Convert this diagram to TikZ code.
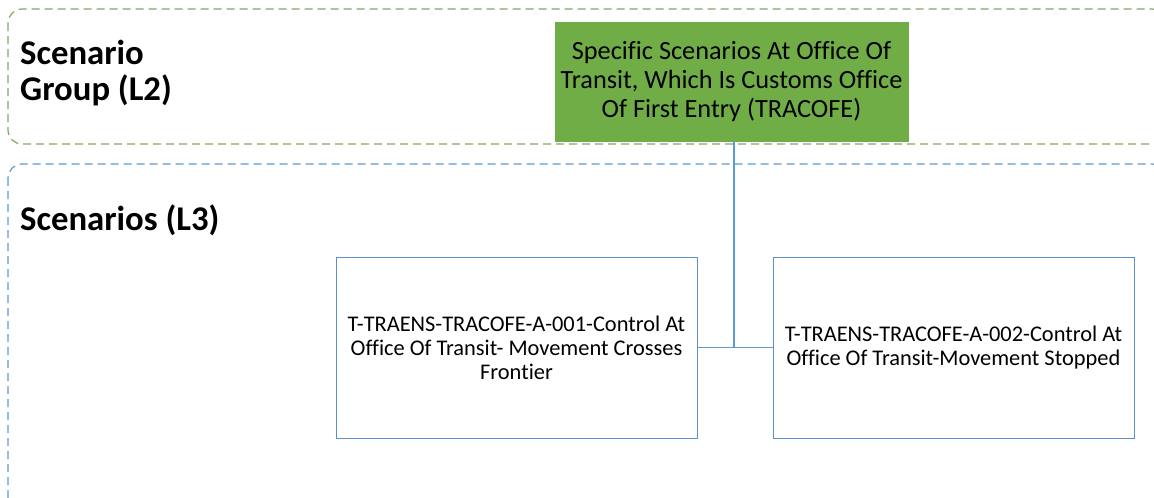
\documentclass[tikz,border=0pt]{standalone}
\usepackage{fontspec}
\setmainfont{Carlito}[Ligatures=NoCommon]
\begin{document}
\begin{tikzpicture}[x=1pt,y=-1pt,
  grp/.style={draw=grpgreen,line width=1.2pt,dash pattern=on 8pt off 5pt,rounded corners=14pt},
  lvl/.style={draw=lvlblue,line width=1.2pt,dash pattern=on 8pt off 5pt,rounded corners=14pt},
  greenbox/.style={fill=boxgreen,draw=boxgreen,minimum width=353pt,minimum height=119pt,align=center,font=\fontsize{26.3}{29}\selectfont,inner sep=0pt},
  scenbox/.style={draw=boxblue,line width=0.9pt,fill=white,minimum width=361pt,minimum height=181pt,align=center,font=\fontsize{22.4}{24}\selectfont,inner sep=0pt},
  lbl/.style={anchor=west,align=left,font=\fontsize{34.7}{36}\selectfont\bfseries,inner sep=0pt},
  conn/.style={draw=lvlblue,line width=1.2pt}]
\definecolor{grpgreen}{HTML}{7FA866}
\definecolor{lvlblue}{HTML}{5B9BD5}
\definecolor{boxgreen}{HTML}{70AD47}
\definecolor{boxblue}{HTML}{5B8FD0}
\useasboundingbox (0,0) rectangle (1154,498);
\clip (0,0) rectangle (1154,498);
\fill[white] (0,0) rectangle (1154,498);
\draw[grp] (8,9) rectangle (1166,144);
\draw[lvl] (8,164) rectangle (1166,540);
\node[lbl] (l2) at (20,73) {Scenario\\Group (L2)};
\node[lbl] (l3) at (20,220) {Scenarios (L3)};
\node[greenbox] (g) at (731.5,81.5) {Specific Scenarios At Office Of\\Transit, Which Is Customs Office\\Of First Entry (TRACOFE)};
\node[scenbox] (a) at (516.5,347.5) {T-TRAENS-TRACOFE-A-001-Control At\\Office Of Transit- Movement Crosses\\Frontier};
\node[scenbox] (b) at (953.5,347.5) {T-TRAENS-TRACOFE-A-002-Control At\\Office Of Transit-Movement Stopped};
\coordinate (j) at (734,347.5);
\draw[conn] (g.south -| j) -- (j);
\draw[conn] (a.east) -- (b.west);
\end{tikzpicture}
\end{document}
